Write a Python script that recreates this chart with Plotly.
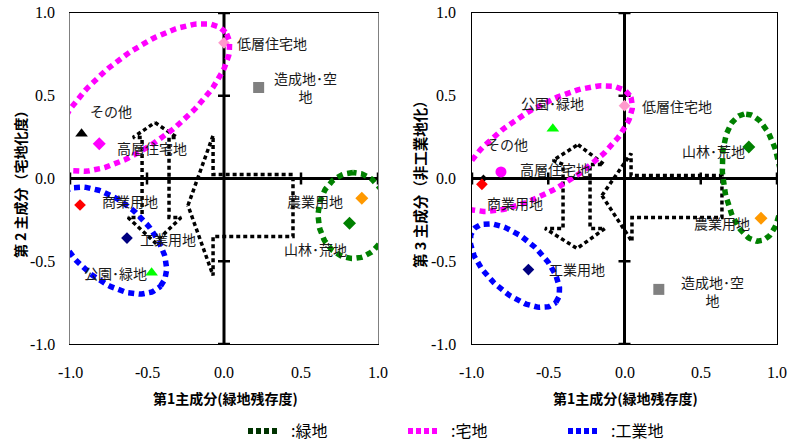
import math
import plotly.graph_objects as go

# ---------------- data ----------------
TICK_VALS = [-1.0, -0.5, 0.0, 0.5, 1.0]
TICK_TEXT = ["-1.0", "-0.5", "0.0", "0.5", "1.0"]

CATEGORIES = ["低層住宅地", "造成地･空地", "その他", "高層住宅地", "商業用地",
              "農業用地", "山林･荒地", "工業用地", "公園･緑地"]
PC1 = [0.00, 0.225, -0.925, -0.81, -0.935, 0.895, 0.815, -0.63, -0.47]
PC2 = [0.82, 0.55, 0.27, 0.21, -0.16, -0.12, -0.27, -0.36, -0.57]
PC3 = [0.44, -0.67, 0.00, 0.04, -0.035, -0.24, 0.19, -0.55, 0.30]

COLORS = ["#ff99cc", "#808080", "#000000", "#ff00ff", "#ff0000",
          "#ff9900", "#008000", "#000080", "#00ff00"]
SYMBOLS_LEFT = ["diamond", "square", "triangle-up", "diamond", "diamond",
                "diamond", "diamond", "diamond", "triangle-up"]
SYMBOLS_RIGHT = ["diamond", "square", "diamond", "circle", "diamond",
                 "diamond", "diamond", "diamond", "triangle-up"]
SIZES_LEFT = [9, 11, 11, 10, 9, 10, 10, 9, 11]
SIZES_RIGHT = [9, 11, 6, 11, 9, 10, 10, 9, 11]

# label placement (data coords, anchor)
LABELS_LEFT = {
    "低層住宅地": (0.071, 0.816, "left"),
    "造成地･空<br>地": (0.526, 0.55, "center"),
    "その他": (-0.883, 0.41, "left"),
    "高層住宅地": (-0.708, 0.187, "left"),
    "商業用地": (-0.805, -0.133, "left"),
    "工業用地": (-0.558, -0.363, "left"),
    "公園･緑地": (-0.922, -0.568, "left"),
    "農業用地": (0.396, -0.133, "left"),
    "山林･荒地": (0.377, -0.423, "left"),
}
LABELS_RIGHT = {
    "公園･緑地": (-0.692, 0.459, "left"),
    "低層住宅地": (0.102, 0.441, "left"),
    "その他": (-0.921, 0.211, "left"),
    "高層住宅地": (-0.698, 0.06, "left"),
    "商業用地": (-0.915, -0.151, "left"),
    "山林･荒地": (0.364, 0.169, "left"),
    "農業用地": (0.443, -0.266, "left"),
    "工業用地": (-0.508, -0.544, "left"),
    "造成地･空<br>地": (0.58, -0.677, "center"),
}

# grouping ellipses: (cx, cy, semi-major px, semi-minor px, angle deg, colour)
ELLIPSES_LEFT = [
    (-0.532, 0.489, 106, 44, 38, "#ff00ff"),
    (-0.74, -0.375, 68, 38, -42, "#0000ff"),
    (0.838, -0.224, 43, 35, 90, "#008000"),
]
ELLIPSES_RIGHT = [
    (-0.521, 0.181, 100, 40, 32, "#ff00ff"),
    (-0.718, -0.526, 55, 27, -42, "#0000ff"),
    (0.836, 0.006, 64, 29, 97, "#008000"),
]

# dotted arrow outlines (data coords)
ARROWS_LEFT = [
    ([-0.448, -0.305, -0.357, -0.357, -0.279, -0.448, -0.623, -0.532, -0.532, -0.591, -0.448],
     [0.338, 0.248, 0.248, -0.236, -0.236, -0.387, -0.236, -0.236, 0.248, 0.248, 0.338]),
    ([-0.234, -0.071, -0.071, 0.448, 0.448, -0.071, -0.071, -0.234],
     [-0.163, 0.26, 0.024, 0.024, -0.35, -0.35, -0.586, -0.163]),
]
ARROWS_RIGHT = [
    ([-0.305, -0.134, -0.226, -0.226, -0.128, -0.311, -0.521, -0.403, -0.403, -0.469, -0.305],
     [0.205, 0.085, 0.085, -0.302, -0.302, -0.423, -0.302, -0.302, 0.085, 0.109, 0.205]),
    ([-0.148, 0.043, 0.043, 0.639, 0.639, 0.049, 0.049, -0.148],
     [-0.103, 0.151, 0.018, 0.018, -0.236, -0.236, -0.381, -0.103]),
]

LEGEND_NAMES = ["\u2002:緑地", "\u2002:宅地", "\u2002:工業地"]
LEGEND_COLORS = ["#003300", "#ff00ff", "#0000ff"]

# ---------------- layout geometry ----------------
W, H = 792, 441
LEFT_DOM = [70 / W, 378 / W]
RIGHT_DOM = [472 / W, 777 / W]
Y_DOM = [1 - 344 / H, 1 - 13 / H]
UX_L, UX_R, UY = 154.0, 152.5, 165.5

LABEL_FONT = dict(family="Noto Sans CJK JP", size=14, color="#1a1a1a")
TICK_FONT = dict(family="Liberation Serif", size=16, color="#000000")


def ellipse(cx, cy, a, b, ang, ux, uy, n=160):
    th = math.radians(ang)
    xs, ys = [], []
    for i in range(n + 1):
        t = 2 * math.pi * i / n
        dx = a * math.cos(t) * math.cos(th) - b * math.sin(t) * math.sin(th)
        dy = a * math.cos(t) * math.sin(th) + b * math.sin(t) * math.cos(th)
        xs.append(cx + dx / ux)
        ys.append(cy + dy / uy)
    return xs, ys


fig = go.Figure()

panels = [
    ("x", "y", PC2, SYMBOLS_LEFT, SIZES_LEFT, LABELS_LEFT, ELLIPSES_LEFT, ARROWS_LEFT, UX_L, 57),
    ("x2", "y2", PC3, SYMBOLS_RIGHT, SIZES_RIGHT, LABELS_RIGHT, ELLIPSES_RIGHT, ARROWS_RIGHT, UX_R, 458),
]

shapes = []
annotations = []

for xa, ya, yvals, syms, sizes, labels, ells, arrows, ux, ytick_right in panels:
    # central thick axes
    shapes.append(dict(type="line", xref=xa, yref=ya, x0=0, x1=0, y0=-1, y1=1,
                       line=dict(color="black", width=3), layer="below"))
    shapes.append(dict(type="line", xref=xa, yref=ya, x0=-1, x1=1, y0=0, y1=0,
                       line=dict(color="black", width=3), layer="below"))
    for v in TICK_VALS:
        if v == 0:
            continue
        shapes.append(dict(type="line", xref=xa, yref=ya, x0=-6 / ux, x1=6 / ux, y0=v, y1=v,
                           line=dict(color="black", width=2.5), layer="below"))
        shapes.append(dict(type="line", xref=xa, yref=ya, x0=v, x1=v, y0=-6 / UY, y1=6 / UY,
                           line=dict(color="black", width=2.5), layer="below"))

    # tick labels (serif), placed on the axis values
    for v, t in zip(TICK_VALS, TICK_TEXT):
        annotations.append(dict(x=v, xref=xa, y=1 - 372 / H, yref="paper", text=t,
                                showarrow=False, xanchor="center", yanchor="middle",
                                font=TICK_FONT))
        annotations.append(dict(x=ytick_right / W, xref="paper", y=v, yref=ya, text=t,
                                showarrow=False, xanchor="right", yanchor="middle",
                                font=TICK_FONT))

    # arrows
    for ax_, ay_ in arrows:
        fig.add_trace(go.Scatter(x=ax_, y=ay_, mode="lines", xaxis=xa, yaxis=ya,
                                 line=dict(color="black", width=3.5, dash="4px,3px"),
                                 showlegend=False, hoverinfo="skip"))
    # markers
    for i, cat in enumerate(CATEGORIES):
        fig.add_trace(go.Scatter(x=[PC1[i]], y=[yvals[i]], mode="markers", xaxis=xa, yaxis=ya,
                                 marker=dict(symbol=syms[i], size=sizes[i], color=COLORS[i],
                                             line=dict(width=0)),
                                 name=cat, showlegend=False))
    # ellipses
    for cx, cy, a, b, ang, col in ells:
        ex, ey = ellipse(cx, cy, a, b, ang, ux, UY)
        fig.add_trace(go.Scatter(x=ex, y=ey, mode="lines", xaxis=xa, yaxis=ya,
                                 line=dict(color=col, width=5.5, dash="6px,4.5px"),
                                 showlegend=False, hoverinfo="skip"))
    # labels
    for txt, (lx, ly, anc) in labels.items():
        annotations.append(dict(x=lx, y=ly, xref=xa, yref=ya, text=txt, showarrow=False,
                                xanchor=anc, yanchor="middle", align="center",
                                font=LABEL_FONT))

# legend entries
for name, col in zip(LEGEND_NAMES, LEGEND_COLORS):
    fig.add_trace(go.Scatter(x=[None], y=[None], mode="lines", name=name,
                             line=dict(color=col, width=6, dash="5px,3px")))

# axis titles
TITLE_FONT = dict(family="Noto Sans CJK JP", size=14, color="#000000")
annotations += [
    dict(x=225 / W, y=1 - 398 / H, xref="paper", yref="paper", showarrow=False,
         text="<b>第1主成分(緑地残存度)</b>", font=TITLE_FONT, xanchor="center", yanchor="middle"),
    dict(x=625 / W, y=1 - 398 / H, xref="paper", yref="paper", showarrow=False,
         text="<b>第1主成分(緑地残存度)</b>", font=TITLE_FONT, xanchor="center", yanchor="middle"),
    dict(x=20 / W, y=1 - 181 / H, xref="paper", yref="paper", showarrow=False, textangle=-90,
         text="<b>第 2 主成分（宅地化度）</b>", font=TITLE_FONT, xanchor="center", yanchor="middle"),
    dict(x=420 / W, y=1 - 181 / H, xref="paper", yref="paper", showarrow=False, textangle=-90,
         text="<b>第 3 主成分（非工業地化）</b>", font=dict(TITLE_FONT, size=14.5),
         xanchor="center", yanchor="middle"),
]

axis_common = dict(range=[-1, 1], showticklabels=False, ticks="",
                   showgrid=False, zeroline=False, showline=True, mirror=True,
                   linewidth=1, automargin=False, fixedrange=True)

fig.update_layout(
    width=W, height=H,
    margin=dict(l=0, r=0, t=0, b=0, autoexpand=False),
    paper_bgcolor="white", plot_bgcolor="white",
    xaxis=dict(axis_common, domain=LEFT_DOM, anchor="y", linecolor="#000000"),
    yaxis=dict(axis_common, domain=Y_DOM, anchor="x", linecolor="#808080"),
    xaxis2=dict(axis_common, domain=RIGHT_DOM, anchor="y2", linecolor="#000000"),
    yaxis2=dict(axis_common, domain=Y_DOM, anchor="x2", linecolor="#000000"),
    shapes=shapes,
    annotations=annotations,
    showlegend=True,
    legend=dict(orientation="h", x=243 / W, xanchor="left", y=1 - 431 / H, yanchor="middle",
                font=dict(family="Noto Sans CJK JP", size=16, color="#000000"),
                entrywidth=115, entrywidthmode="pixels", bgcolor="rgba(0,0,0,0)",
                itemclick=False, itemdoubleclick=False),
)

fig.write_html("out.html", config={"displayModeBar": False},
               post_script="document.body.style.margin='0px';document.body.style.overflow='hidden';")
